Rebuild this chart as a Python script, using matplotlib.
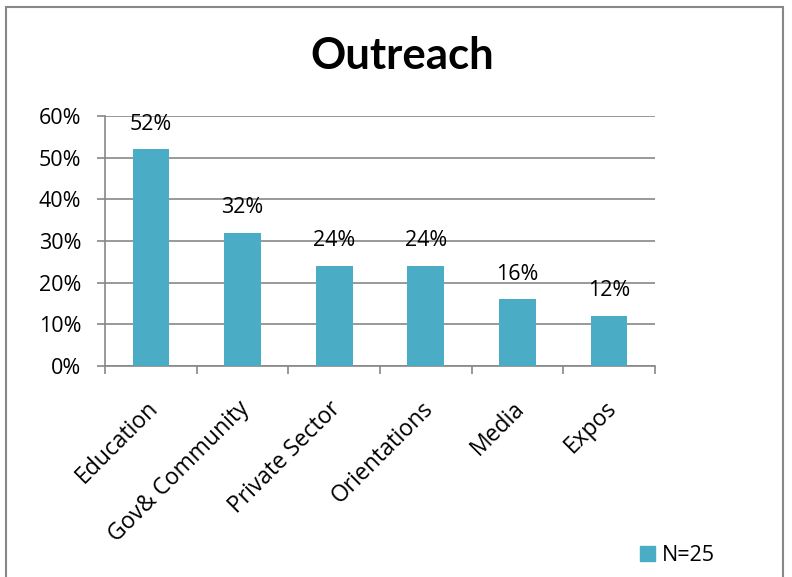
import matplotlib.pyplot as plt
import matplotlib.transforms as mtransforms
from matplotlib.patches import Rectangle, Patch

# 데이터
categories = ['Education', 'Gov& Community', 'Private Sector', 'Orientations', 'Media', 'Expos']
values = [52, 32, 24, 24, 16, 12]
y_ticks = [0, 10, 20, 30, 40, 50, 60]
y_labels = ['0%', '10%', '20%', '30%', '40%', '50%', '60%']

bar_color = '#4BACC6'
grid_color = '#878787'
plt.rcParams['font.family'] = ['Open Sans', 'DejaVu Sans']
fs = 15.5

fig = plt.figure(figsize=(7.92, 5.77), dpi=100)
ax = fig.add_axes([0.1326, 0.3657, 0.6944, 0.4333])

x = range(len(categories))
ax.bar(x, values, width=0.4, color=bar_color, zorder=3)

# 막대 위 값 표시
for xi, v in zip(x, values):
    ax.annotate(f'{v}%', (xi, v), xytext=(0, 18), textcoords='offset points',
                ha='center', va='center', fontsize=fs, color='black')

ax.set_xlim(-0.5, len(categories) - 0.5)
ax.set_ylim(0, 60)
ax.set_yticks(y_ticks)
ax.set_yticklabels(y_labels, fontsize=fs)
ax.yaxis.grid(True, color=grid_color, linewidth=1.2, zorder=0)

ax.set_xticks(list(x))
ax.set_xticklabels(categories, rotation=45, ha='right', va='top',
                   rotation_mode='anchor', fontsize=16.5)
ax.tick_params(axis='x', which='major', length=0, pad=22)
# 라벨을 살짝 왼쪽으로 이동
shift = mtransforms.ScaledTranslation(-5 / 100, 0, fig.dpi_scale_trans)
for lbl in ax.get_xticklabels():
    lbl.set_transform(lbl.get_transform() + shift)
ax.set_xticks([i - 0.5 for i in range(len(categories) + 1)], minor=True)
ax.tick_params(axis='x', which='minor', length=6, color=grid_color, width=1.2, direction='out')
ax.tick_params(axis='y', length=6, color=grid_color, width=1.2, direction='out', pad=11)

for side in ['top', 'right']:
    ax.spines[side].set_visible(False)
for side in ['left', 'bottom']:
    ax.spines[side].set_color(grid_color)
    ax.spines[side].set_linewidth(1.2)

fig.text(0.508, 0.903, 'Outreach', ha='center', va='center', fontsize=31.5,
         fontweight='bold', family='Lato')

fig.legend(handles=[Patch(color=bar_color, label='N=25')], loc='center',
           bbox_to_anchor=(0.855, 0.037), frameon=False, fontsize=fs,
           handlelength=0.7, handleheight=0.7, handletextpad=0.3)

# 바깥 테두리
fig.patches.append(Rectangle((0.007, -0.02), 0.982, 1.008, transform=fig.transFigure,
                             fill=False, edgecolor=grid_color, linewidth=1.5))

fig.savefig('out.png', dpi=100)
